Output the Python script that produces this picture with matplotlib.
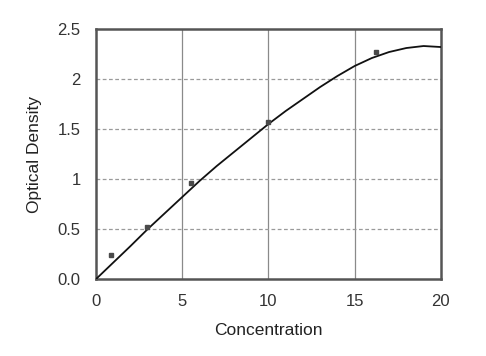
import matplotlib
matplotlib.use("Agg")
import matplotlib.pyplot as plt

# standard points
conc = [0.89, 2.94, 5.49, 10.0, 16.27]
od = [0.24, 0.52, 0.96, 1.57, 2.27]

# fitted curve
curve_x = [0, 1, 2, 3, 4, 5, 6, 7, 8, 9, 10, 11, 12, 13, 14, 15, 16, 17, 18, 19, 20]
curve_y = [0.0, 0.165, 0.33, 0.50, 0.66, 0.82, 0.98, 1.13, 1.27, 1.41, 1.55,
           1.68, 1.80, 1.92, 2.03, 2.13, 2.21, 2.27, 2.31, 2.33, 2.32]

x_ticks = [0, 5, 10, 15, 20]
y_ticks = [0.0, 0.5, 1.0, 1.5, 2.0, 2.5]
y_tick_labels = ["0.0", "0.5", "1", "1.5", "2", "2.5"]

plt.rcParams["font.family"] = ["Liberation Sans", "DejaVu Sans"]

fig = plt.figure(figsize=(4.86, 3.56), dpi=100)
ax = fig.add_axes([0.1975, 0.216, 0.7095, 0.7025])

for xv in x_ticks[1:-1]:
    ax.axvline(xv, color="#8a8a8a", linewidth=0.9, zorder=1)
for yv in y_ticks[1:-1]:
    ax.axhline(yv, color="#9a9a9a", linewidth=0.9, linestyle=(0, (3, 2)), zorder=1)

ax.plot(curve_x, curve_y, color="#111111", linewidth=1.3, zorder=3)
ax.plot(conc, od, linestyle="none", marker="s", markersize=3.2,
        color="#4a4a4a", zorder=4)

ax.set_xlim(0, 20)
ax.set_ylim(0, 2.5)
ax.set_xticks(x_ticks)
ax.set_yticks(y_ticks)
ax.set_yticklabels(y_tick_labels)
ax.tick_params(length=0, labelsize=12, labelcolor="#333333")
ax.tick_params(axis="y", pad=11)
ax.tick_params(axis="x", pad=11)

for side in ax.spines.values():
    side.set_color("#555555")
    side.set_linewidth(1.8)

ax.set_xlabel("Concentration", fontsize=12.5, color="#222222", labelpad=10)
ax.set_ylabel("Optical Density", fontsize=12.5, color="#222222", labelpad=11)

fig.savefig("out.png", dpi=100)
